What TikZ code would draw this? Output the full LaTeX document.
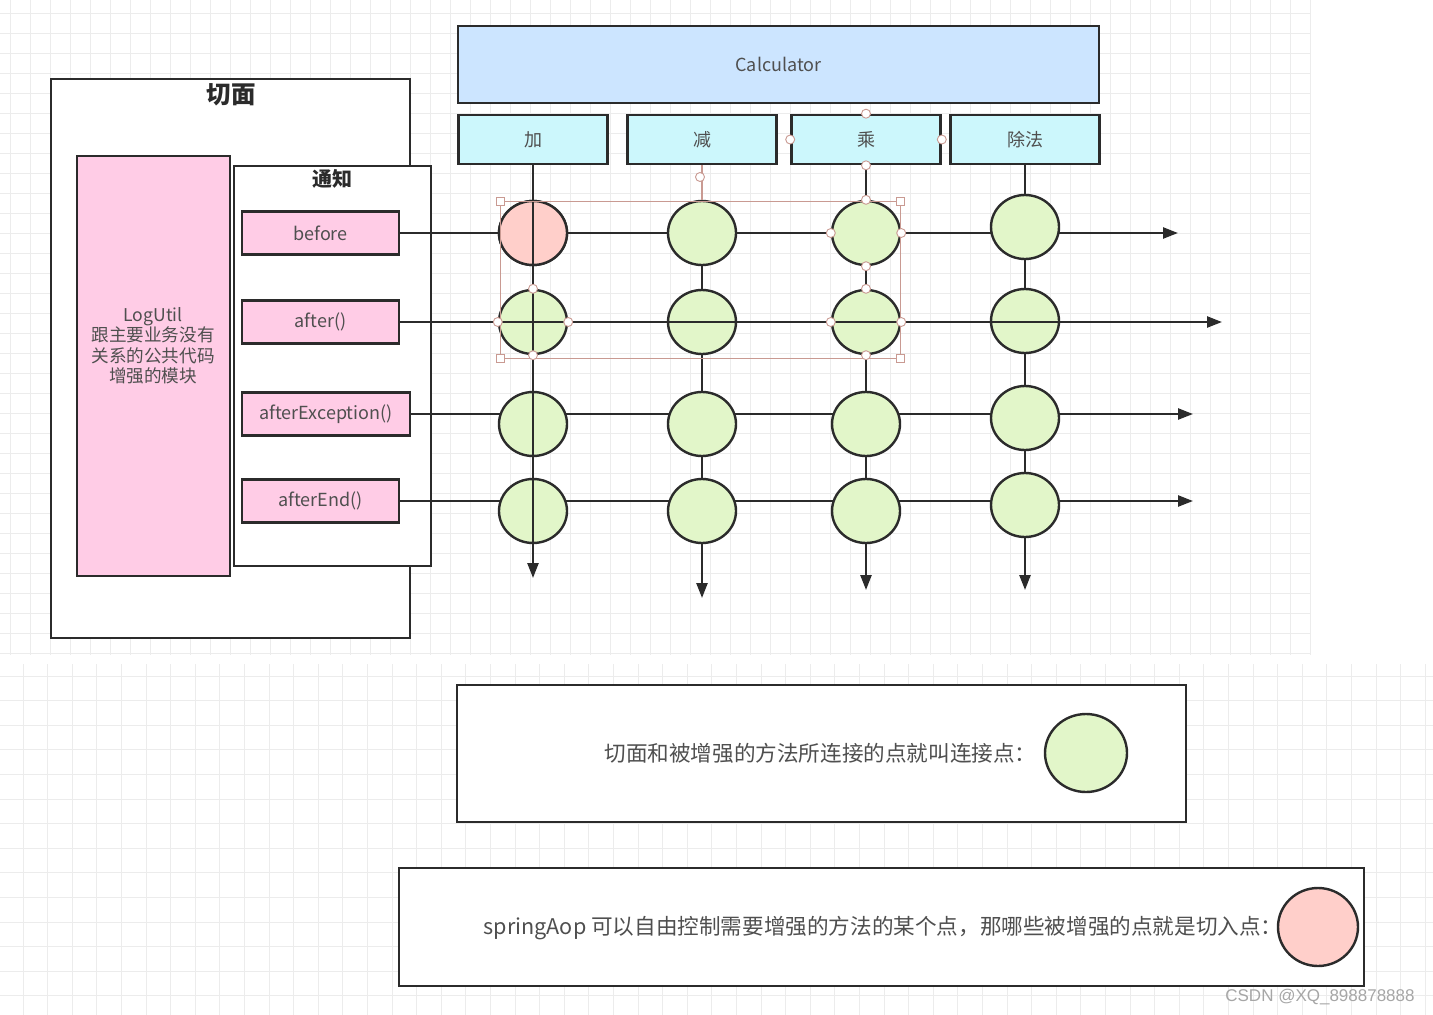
\documentclass[tikz,border=0pt]{standalone}
\usepackage{fontspec}
\setmainfont{Noto Sans CJK SC}
\newfontfamily\markfont{Liberation Sans}
\usetikzlibrary{arrows.meta,shapes.geometric}

\definecolor{pinkfill}{HTML}{FFCCE6}
\definecolor{calcfill}{HTML}{CCE5FF}
\definecolor{methfill}{HTML}{CCF7FC}
\definecolor{joinfill}{HTML}{E2F6C9}
\definecolor{cutfill}{HTML}{FFCFCA}
\definecolor{txtgray}{HTML}{4F4F4F}
\definecolor{linegray}{HTML}{2B2B2B}
\definecolor{gridgray}{HTML}{ECECEC}
\definecolor{selcolor}{HTML}{C99A92}

\begin{document}
\begin{tikzpicture}[x=1pt, y=-1pt,
    box/.style={draw=linegray, line width=2.6pt, inner sep=0pt, text=txtgray,
      font=\fontsize{18}{21}\selectfont},
    frame/.style={box, fill=white},
    advice/.style={box, fill=pinkfill, minimum height=43pt},
    method/.style={box, fill=methfill, minimum width=149pt, minimum height=49pt},
    joinpt/.style={draw=linegray, line width=2.4pt, fill=joinfill, ellipse,
      minimum width=68pt, minimum height=64pt, inner sep=0pt},
    flow/.style={draw=linegray, line width=2.4pt},
    arrowflow/.style={flow, -{Triangle[length=15pt,width=11pt]}},
    note/.style={text=txtgray, font=\fontsize{21.6}{25}\selectfont},
    gridline/.style={gridgray, line width=0.9pt},
    handle/.style={draw=selcolor, fill=white, line width=0.9pt, circle,
      minimum size=9pt, inner sep=0pt}]
  \useasboundingbox (0,0) rectangle (1433,1015);
  \fill[white] (0,0) rectangle (1433,1015);
  % background grid
  \foreach \gx in {10,30,...,1310} \draw[gridline] (\gx,0) -- (\gx,655);
  \foreach \gy in {13,33,...,653} \draw[gridline] (0,\gy) -- (1310,\gy);
  \foreach \gx in {23,47.6,...,1433} \draw[gridline] (\gx,664) -- (\gx,1015);
  \foreach \gy in {676,700.6,...,1015} \draw[gridline] (0,\gy) -- (1433,\gy);

  % aspect
  \node[frame, minimum width=359pt, minimum height=559pt] (aspect) at (230.5,358.5) {};
  \node[font=\fontsize{24.5}{28}\selectfont\bfseries, text=linegray] (aspectlbl) at (231,95) {切面};
  \node[box, fill=pinkfill, minimum width=153pt, minimum height=420pt] (logutil) at (153.5,366) {};
  \node[text=txtgray, align=center, font=\fontsize{17.6}{20.5}\selectfont] (logtext) at (153,346)
    {LogUtil\\跟主要业务没有\\关系的公共代码\\增强的模块};
  \node[frame, minimum width=197pt, minimum height=400pt] (advices) at (332.5,366) {};
  \node[font=\fontsize{20}{23}\selectfont\bfseries, text=linegray] (adviceslbl) at (332,179) {通知};
  \node[advice, minimum width=157pt] (before)    at (320.5,233) {before};
  \node[advice, minimum width=157pt] (after)     at (320.5,322) {after()};
  \node[advice, minimum width=168pt] (afterexc)  at (326,414)   {afterException()};
  \node[advice, minimum width=157pt] (afterend)  at (320.5,501) {afterEnd()};

  % target methods
  \node[box, fill=calcfill, minimum width=641pt, minimum height=77pt] (calc) at (778.5,64.5) {Calculator};
  \foreach \name/\x/\lbl in {add/533/加, sub/702/减, mul/866/乘, div/1025/除法}
    \node[method] (\name) at (\x,139.5) {\lbl};

  \coordinate (r1end) at (1178,233);
  \coordinate (r2end) at (1222,322);
  \coordinate (r3end) at (1193,414);
  \coordinate (r4end) at (1193,501);
  \coordinate (c1end) at (533,578);
  \coordinate (c2end) at (702,598);
  \coordinate (c3end) at (866,590);
  \coordinate (c4end) at (1025,590);

  % lines behind the join points
  \draw[arrowflow] (before) -- (r1end);
  \draw[arrowflow] (afterexc) -- (r3end);
  \draw[arrowflow] (afterend) -- (r4end);
  \draw[arrowflow] (sub) -- (c2end);
  \draw[arrowflow] (mul) -- (c3end);
  \draw[arrowflow] (div) -- (c4end);

  % join points
  \foreach \c/\x in {1/533, 2/702, 3/866}
    \foreach \r/\y in {1/233, 2/322, 3/424, 4/511}
      \node[joinpt] (c\r\c) at (\x,\y) {};
  \foreach \r/\y in {1/227, 2/321, 3/418, 4/505}
    \node[joinpt] (c\r4) at (1025,\y) {};
  \node[joinpt, fill=cutfill] at (c11) {};

  % lines in front
  \draw[arrowflow] (add) -- (c1end);
  \draw[arrowflow] (after) -- (r2end);

  % selection marks
  \draw[selcolor, line width=0.8pt] (500,201) rectangle (900,358);
  \foreach \p in {(500,201), (900,201), (500,358), (900,358)}
    \node[draw=selcolor, fill=white, line width=0.9pt, minimum size=8pt, inner sep=0pt] at \p {};
  \draw[selcolor, line width=2pt] (sub.south) -- (702,200);
  \node[handle] at (700,177) {};
  \foreach \p in {(mul.north), (mul.west), (mul.east), (mul.south),
                  (c13.north), (c13.west), (c13.east), (c13.south),
                  (c23.north), (c23.west), (c23.east), (c23.south),
                  (c21.north), (c21.west), (c21.east), (c21.south)}
    \node[handle] at \p {};

  % legend
  \node[frame, minimum width=729pt, minimum height=137pt] (legend1) at (821.5,753.5) {};
  \node[note, anchor=east] (joinnote) at (1040,753) {切面和被增强的方法所连接的点就叫连接点：};
  \node[joinpt, minimum width=82pt, minimum height=78pt] (joinkey) at (1086,753) {};
  \node[frame, minimum width=965pt, minimum height=118pt] (legend2) at (881.5,927) {};
  \node[note, anchor=east] (cutnote) at (1286,928) {springAop 可以自由控制需要增强的方法的某个点，那哪些被增强的点就是切入点：};
  \node[joinpt, fill=cutfill, minimum width=80pt, minimum height=78pt] (cutkey) at (1318,927) {};

  \node[text=gray!70, font=\markfont\fontsize{17}{20}\selectfont] (mark) at (1320,997) {CSDN @XQ\_898878888};
\end{tikzpicture}
\end{document}
